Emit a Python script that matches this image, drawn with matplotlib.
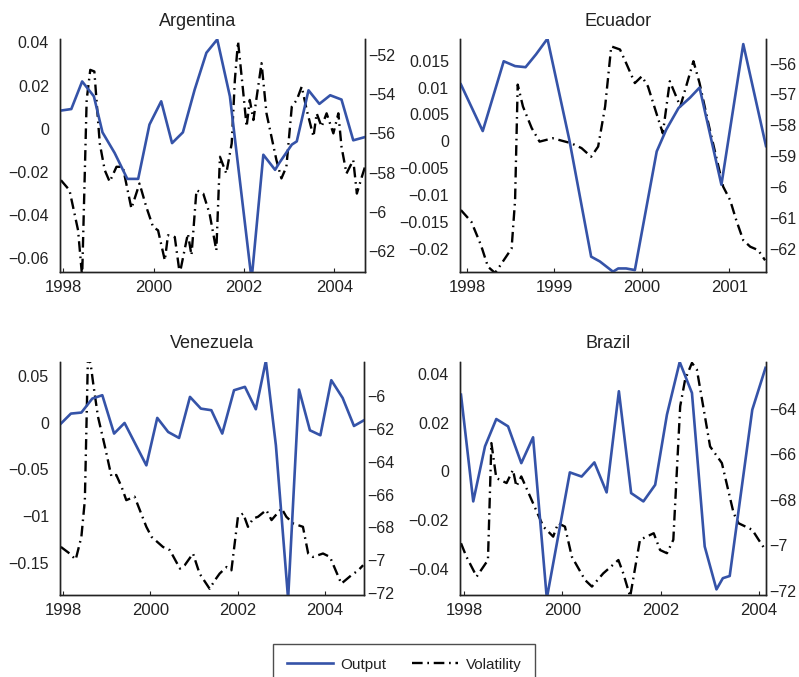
import matplotlib
matplotlib.use("Agg")
import matplotlib.pyplot as plt
from matplotlib.lines import Line2D

plt.rcParams["font.family"] = ["Liberation Sans", "DejaVu Sans"]
plt.rcParams["text.color"] = "#222222"

# ---- Argentina ----
arg_out_t = [1997.95, 1998.18, 1998.42, 1998.68, 1998.87, 1999.14, 1999.42, 1999.66, 1999.91,
             2000.17, 2000.41, 2000.65, 2000.91, 2001.17, 2001.41, 2001.69, 2002.17, 2002.43,
             2002.69, 2002.78, 2003.06, 2003.17, 2003.43, 2003.67, 2003.91, 2004.16, 2004.42, 2004.68]
arg_out_v = [0.0084, 0.0091, 0.0219, 0.0150, -0.0017, -0.0113, -0.0233, -0.0233, 0.0019,
             0.0127, -0.0067, -0.0017, 0.0181, 0.0352, 0.0414, 0.0150, -0.0700, -0.0121,
             -0.0191, -0.0160, -0.0074, -0.0059, 0.0178, 0.0115, 0.0155, 0.0135, -0.0054, -0.0039]
arg_vol_t = [1997.95, 1998.14, 1998.33, 1998.42, 1998.52, 1998.60, 1998.69, 1998.81, 1998.92,
             1999.03, 1999.18, 1999.32, 1999.51, 1999.69, 1999.84, 1999.99, 2000.10, 2000.25,
             2000.32, 2000.47, 2000.58, 2000.76, 2000.84, 2000.95, 2001.10, 2001.24, 2001.39,
             2001.47, 2001.61, 2001.73, 2001.80, 2001.87, 2001.98, 2002.06, 2002.13, 2002.21,
             2002.39, 2002.50, 2002.72, 2002.83, 2002.94, 2003.06, 2003.17, 2003.28, 2003.39,
             2003.54, 2003.61, 2003.72, 2003.83, 2003.98, 2004.09, 2004.16, 2004.27, 2004.42,
             2004.50, 2004.61, 2004.68]
arg_vol_v = [-58.38, -58.89, -60.93, -63.30, -54.30, -52.77, -52.85, -56.51, -57.87,
             -58.46, -57.70, -57.70, -59.82, -58.55, -59.74, -60.76, -60.93, -62.46,
             -61.18, -61.27, -63.14, -61.10, -62.20, -58.89, -59.06, -60.08, -61.95,
             -57.19, -58.04, -56.51, -53.28, -51.32, -53.79, -55.66, -54.30, -55.32,
             -52.43, -54.98, -57.36, -58.29, -57.70, -54.64, -54.30, -53.62, -54.81,
             -56.17, -54.98, -55.66, -54.98, -56.00, -54.98, -56.68, -58.04, -57.36,
             -59.06, -58.21, -57.70]

# ---- Ecuador ----
ecu_out_t = [1997.93, 1998.18, 1998.42, 1998.55, 1998.67, 1998.79, 1998.92, 1999.17, 1999.42,
             1999.52, 1999.67, 1999.73, 1999.82, 1999.92, 2000.17, 2000.28, 2000.42, 2000.55,
             2000.66, 2000.91, 2001.16, 2001.42]
ecu_out_v = [0.0106, 0.0019, 0.0149, 0.0140, 0.0138, 0.0162, 0.0191, 0.0003, -0.0215,
             -0.0224, -0.0243, -0.0237, -0.0237, -0.0240, -0.0019, 0.0022, 0.0062, 0.0081,
             0.0100, -0.0081, 0.0181, -0.0009]
ecu_vol_t = [1997.93, 1998.05, 1998.16, 1998.24, 1998.32, 1998.37, 1998.51, 1998.55, 1998.58,
             1998.64, 1998.74, 1998.83, 1998.98, 1999.19, 1999.31, 1999.42, 1999.50, 1999.58,
             1999.65, 1999.75, 1999.82, 1999.92, 2000.00, 2000.07, 2000.19, 2000.24, 2000.32,
             2000.44, 2000.59, 2000.66, 2000.76, 2000.85, 2000.93, 2001.01, 2001.08, 2001.16,
             2001.24, 2001.33, 2001.41]
ecu_vol_v = [-60.75, -61.13, -61.89, -62.59, -62.79, -62.59, -62.00, -60.43, -56.68,
             -57.39, -58.09, -58.53, -58.42, -58.58, -58.74, -59.02, -58.69, -57.39,
             -55.44, -55.54, -55.98, -56.63, -56.41, -56.74, -57.82, -58.26, -56.57,
             -57.39, -55.92, -56.63, -57.93, -59.02, -59.99, -60.43, -61.08, -61.73,
             -61.94, -62.05, -62.38]

# ---- Venezuela ----
ven_out_t = [1997.95, 1998.18, 1998.42, 1998.67, 1998.90, 1999.17, 1999.41, 1999.91, 2000.16,
             2000.41, 2000.66, 2000.91, 2001.16, 2001.40, 2001.65, 2001.92, 2002.17, 2002.42,
             2002.65, 2002.88, 2003.16, 2003.41, 2003.66, 2003.90, 2004.15, 2004.41, 2004.67,
             2004.90]
ven_out_v = [-0.0011, 0.0096, 0.0107, 0.0256, 0.0292, -0.0117, -0.0004, -0.0456, 0.0050,
             -0.0100, -0.0164, 0.0274, 0.0149, 0.0132, -0.0117, 0.0345, 0.0381, 0.0142,
             0.0658, -0.0242, -0.1880, 0.0352, -0.0082, -0.0135, 0.0452, 0.0263, -0.0036,
             0.0025]
ven_vol_t = [1997.95, 1998.15, 1998.29, 1998.42, 1998.50, 1998.57, 1998.63, 1998.69, 1998.80,
             1998.96, 1999.11, 1999.22, 1999.34, 1999.45, 1999.64, 1999.91, 2000.03, 2000.29,
             2000.45, 2000.68, 2000.79, 2000.98, 2001.13, 2001.36, 2001.48, 2001.59, 2001.75,
             2001.86, 2002.01, 2002.13, 2002.24, 2002.36, 2002.47, 2002.66, 2002.78, 2003.01,
             2003.12, 2003.28, 2003.50, 2003.62, 2003.73, 2003.96, 2004.12, 2004.38, 2004.61,
             2004.77, 2004.88]
ven_vol_v = [-69.18, -69.58, -69.95, -68.57, -66.33, -57.70, -58.01, -59.23, -61.26,
             -63.09, -64.91, -64.81, -65.52, -66.34, -66.13, -67.96, -68.57, -69.18,
             -69.38, -70.50, -70.29, -69.58, -70.80, -71.72, -71.21, -70.80, -70.40,
             -70.60, -67.35, -67.15, -67.96, -67.45, -67.35, -66.94, -67.55, -66.84,
             -67.35, -67.76, -67.96, -69.58, -69.79, -69.58, -69.79, -71.41, -70.90,
             -70.60, -70.29]

# ---- Brazil ----
bra_out_t = [1997.93, 1998.18, 1998.42, 1998.65, 1998.89, 1999.16, 1999.40, 1999.68, 2000.15,
             2000.39, 2000.65, 2000.90, 2001.15, 2001.40, 2001.65, 2001.89, 2002.13, 2002.39,
             2002.64, 2002.90, 2003.14, 2003.27, 2003.41, 2003.87, 2004.14]
bra_out_v = [0.0315, -0.0123, 0.0103, 0.0215, 0.0185, 0.0034, 0.0140, -0.0521, -0.0004,
             -0.0021, 0.0037, -0.0086, 0.0329, -0.0089, -0.0123, -0.0055, 0.0233, 0.0449,
             0.0322, -0.0308, -0.0484, -0.0438, -0.0429, 0.0253, 0.0425]
bra_vol_t = [1997.93, 1998.04, 1998.25, 1998.48, 1998.55, 1998.65, 1998.86, 1998.99, 1999.06,
             1999.16, 1999.40, 1999.61, 1999.81, 1999.91, 2000.05, 2000.19, 2000.46, 2000.60,
             2000.83, 2001.14, 2001.24, 2001.38, 2001.58, 2001.86, 2001.99, 2002.13, 2002.26,
             2002.40, 2002.50, 2002.64, 2002.74, 2003.01, 2003.25, 2003.49, 2003.59, 2003.87,
             2004.00, 2004.14]
bra_vol_v = [-69.91, -70.50, -71.38, -70.65, -65.50, -67.04, -67.26, -66.68, -67.41,
             -66.97, -68.15, -69.18, -69.62, -69.03, -69.18, -70.50, -71.53, -71.82,
             -71.24, -70.65, -71.24, -72.26, -69.76, -69.47, -70.21, -70.35, -69.76,
             -63.88, -62.71, -61.97, -62.26, -65.65, -66.38, -68.59, -69.03, -69.32,
             -69.76, -70.21]

# tick values and the labels exactly as printed
arg_lt = [0.04, 0.02, 0, -0.02, -0.04, -0.06]
arg_ll = ["0.04", "0.02", "0", "\u22120.02", "\u22120.04", "\u22120.06"]
arg_rt = [-52, -54, -56, -58, -60, -62]
arg_rl = ["\u221252", "\u221254", "\u221256", "\u221258", "\u22126", "\u221262"]
ecu_lt = [0.015, 0.01, 0.005, 0, -0.005, -0.01, -0.015, -0.02]
ecu_ll = ["0.015", "0.01", "0.005", "0", "\u22120.005", "\u22120.01", "\u22120.015", "\u22120.02"]
ecu_rt = [-56, -57, -58, -59, -60, -61, -62]
ecu_rl = ["\u221256", "\u221257", "\u221258", "\u221259", "\u22126", "\u221261", "\u221262"]
ven_lt = [0.05, 0, -0.05, -0.1, -0.15]
ven_ll = ["0.05", "0", "\u22120.05", "\u221201", "\u22120.15"]
ven_rt = [-60, -62, -64, -66, -68, -70, -72]
ven_rl = ["\u22126", "\u221262", "\u221264", "\u221266", "\u221268", "\u22127", "\u221272"]
bra_lt = [0.04, 0.02, 0, -0.02, -0.04]
bra_ll = ["0.04", "0.02", "0", "\u22120.02", "\u22120.04"]
bra_rt = [-64, -66, -68, -70, -72]
bra_rl = ["\u221264", "\u221266", "\u221268", "\u22127", "\u221272"]

W, H = 799, 677
BLUE = "#3553a8"
DASHDOT = (0, (4.5, 2.0, 0.7, 2.0))

fig = plt.figure(figsize=(W / 100, H / 100), dpi=100)


def panel(box, title, title_x, out_t, out_v, vol_t, vol_v, xlim, ylim, y2lim,
          lt, ll, rt, rl, xt):
    l, t, r, b = box
    ax = fig.add_axes([l / W, 1 - b / H, (r - l) / W, (b - t) / H])
    ax2 = ax.twinx()
    ax2.plot(vol_t, vol_v, color="black", lw=1.7, linestyle=DASHDOT)
    ax.plot(out_t, out_v, color=BLUE, lw=1.9)
    ax.set_zorder(ax2.get_zorder() + 1)
    ax.patch.set_visible(False)
    ax.set_xlim(*xlim)
    ax.set_ylim(*ylim)
    ax2.set_ylim(*y2lim)
    ax.set_yticks(lt)
    ax.set_yticklabels(ll)
    ax2.set_yticks(rt)
    ax2.set_yticklabels(rl)
    ax.set_xticks(xt)
    ax.set_xticklabels([str(x) for x in xt])
    for a in (ax, ax2):
        a.spines["top"].set_visible(False)
        for s in ("left", "right", "bottom"):
            a.spines[s].set_color("#222222")
            a.spines[s].set_linewidth(1.0)
    ax.tick_params(axis="y", length=0, pad=8, labelsize=11.5, colors="#222222")
    ax2.tick_params(axis="y", length=0, pad=2, labelsize=11.5, colors="#222222")
    ax.tick_params(axis="x", direction="in", length=3, width=0.8, pad=6,
                   labelsize=12, colors="#222222")
    ax.text(title_x, 1.0 + 18 / (b - t), title, transform=ax.transAxes,
            ha="center", va="center", fontsize=13)
    return ax


panel((60, 39, 365, 272), "Argentina", 0.452, arg_out_t, arg_out_v, arg_vol_t, arg_vol_v,
      (1997.93, 2004.68), (-0.0665, 0.0416), (-63.05, -51.2),
      arg_lt, arg_ll, arg_rt, arg_rl, [1998, 2000, 2002, 2004])
panel((460, 39, 766, 272), "Ecuador", 0.515, ecu_out_t, ecu_out_v, ecu_vol_t, ecu_vol_v,
      (1997.92, 2001.42), (-0.02436, 0.01905), (-62.76, -55.2),
      ecu_lt, ecu_ll, ecu_rt, ecu_rl, [1998, 1999, 2000, 2001])
panel((60, 362, 364, 595), "Venezuela", 0.5, ven_out_t, ven_out_v, ven_vol_t, ven_vol_v,
      (1997.93, 2004.90), (-0.1838, 0.0646), (-72.1, -57.95),
      ven_lt, ven_ll, ven_rt, ven_rl, [1998, 2000, 2002, 2004])
panel((460, 362, 766, 595), "Brazil", 0.485, bra_out_t, bra_out_v, bra_vol_t, bra_vol_v,
      (1997.91, 2004.15), (-0.0507, 0.0449), (-72.19, -61.93),
      bra_lt, bra_ll, bra_rt, bra_rl, [1998, 2000, 2002, 2004])

handles = [Line2D([], [], color=BLUE, lw=1.9),
           Line2D([], [], color="black", lw=1.7, linestyle=DASHDOT)]
leg = fig.legend(handles, ["Output", "Volatility"], ncol=2, loc="upper left",
                 bbox_to_anchor=(273 / W, 1 - 644 / H), fontsize=11,
                 frameon=True, fancybox=False, borderpad=0.9, handlelength=3.0,
                 handletextpad=0.5, columnspacing=1.7, borderaxespad=0)
leg.get_frame().set_edgecolor("#222222")
leg.get_frame().set_linewidth(1.0)

fig.savefig("out.png", dpi=100)
